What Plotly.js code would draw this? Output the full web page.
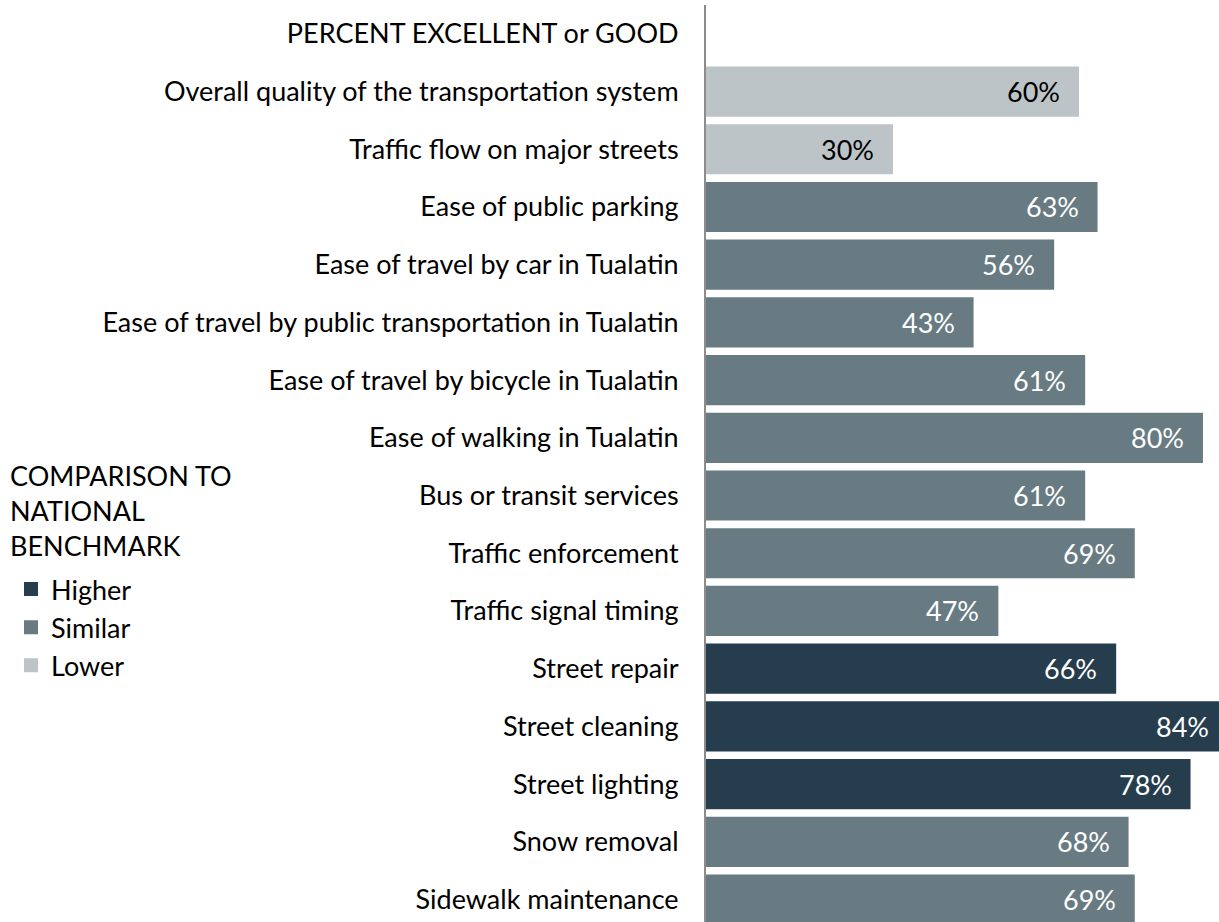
<!DOCTYPE html>
<html>
<head>
<meta charset="utf-8">
<script src="https://cdn.plot.ly/plotly-3.0.1.min.js"></script>
<style>html,body{margin:0;padding:0;background:#fff;overflow:hidden;}#chart{width:1228px;height:922px;}</style>
</head>
<body>
<div id="chart"></div>
<script>
const categories = [
  "PERCENT EXCELLENT or GOOD",
  "Overall quality of the transportation system",
  "Traffic flow on major streets",
  "Ease of public parking",
  "Ease of travel by car in Tualatin",
  "Ease of travel by public transportation in Tualatin",
  "Ease of travel by bicycle in Tualatin",
  "Ease of walking in Tualatin",
  "Bus or transit services",
  "Traffic enforcement",
  "Traffic signal timing",
  "Street repair",
  "Street cleaning",
  "Street lighting",
  "Snow removal",
  "Sidewalk maintenance"
];
const values = [null, 60, 30, 63, 56, 43, 61, 80, 61, 69, 47, 66, 84, 78, 68, 69];
const comparison = [null, "Lower", "Lower", "Similar", "Similar", "Similar", "Similar", "Similar", "Similar", "Similar", "Similar", "Higher", "Higher", "Higher", "Similar", "Similar"];
const groups = ["Higher", "Similar", "Lower"];
const groupColors = {Higher: "#263d4d", Similar: "#687b82", Lower: "#bcc4c7"};
const labelColors = {Higher: "#ffffff", Similar: "#ffffff", Lower: "#000000"};
const legendTitle = "COMPARISON TO<br>NATIONAL<br>BENCHMARK";

const FONT = "Lato, 'Open Sans', sans-serif";
const FS = 27;
const W = 1228, H = 922;
const ML = 706, MT = 5;
const plotW = W - ML, plotH = H - MT;

const traces = groups.map(g => {
  const ys = [], xs = [];
  categories.forEach((c, i) => { if (comparison[i] === g) { ys.push(c); xs.push(values[i]); } });
  return {
    type: "bar", orientation: "h", name: g, y: ys, x: xs,
    legendgroup: g,
    marker: {color: groupColors[g], line: {width: 2, color: groupColors[g]}},
    hoverinfo: "skip"
  };
});

const annotations = [];
categories.forEach((c, i) => {
  if (values[i] == null) return;
  annotations.push({
    x: values[i], y: c, xref: "x", yref: "y",
    text: values[i] + "%", showarrow: false,
    xanchor: "right", yanchor: "middle", xshift: -16,
    font: {family: FONT, size: FS, color: labelColors[comparison[i]]}
  });
});
// legend heading
annotations.push({
  xref: "paper", yref: "paper",
  x: (8 - ML) / plotW, y: 1 - (457 - MT) / plotH,
  xanchor: "left", yanchor: "top", align: "left",
  text: legendTitle, showarrow: false,
  font: {family: FONT, size: FS, color: "#000"}
});

const layout = {
  width: W, height: H,
  margin: {l: ML, r: 0, t: MT, b: 0, pad: 0},
  paper_bgcolor: "#ffffff", plot_bgcolor: "#ffffff",
  barmode: "overlay",
  bargap: 0.165,
  showlegend: true,
  legend: {
    xref: "container", yref: "container",
    x: 7 / W, xanchor: "left", y: 1 - 565 / H, yanchor: "top",
    font: {family: FONT, size: FS, color: "#000"},
    traceorder: "normal",
    tracegroupgap: 3,
    indentation: 4,
    bgcolor: "rgba(0,0,0,0)"
  },
  xaxis: {
    range: [0, 84.2], showgrid: false, zeroline: false, showticklabels: false,
    showline: false, ticks: ""
  },
  yaxis: {
    type: "category", categoryorder: "array", categoryarray: categories,
    range: [15.39, -0.5],
    showgrid: false, zeroline: false, ticks: "",
    showline: true, linecolor: "#8c8c8c", linewidth: 2,
    ticklabelstandoff: 20,
    tickfont: {family: FONT, size: FS, color: "#000"}
  },
  annotations: annotations
};

Plotly.newPlot("chart", traces, layout, {displayModeBar: false, staticPlot: true});
</script>
</body>
</html>
